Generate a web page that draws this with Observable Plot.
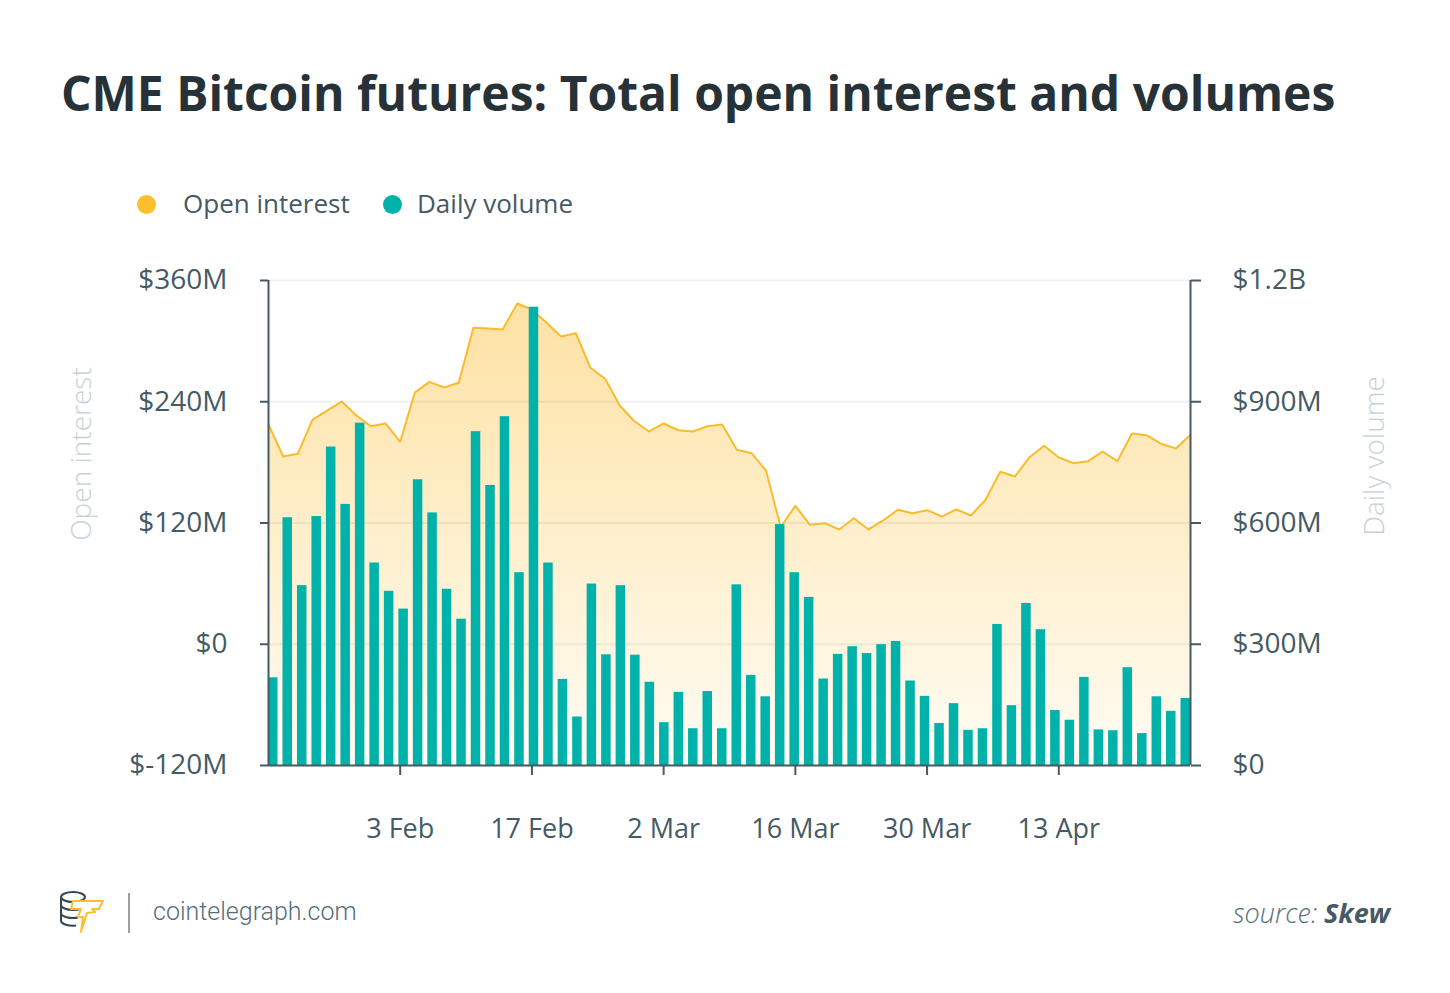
<!DOCTYPE html>
<html>
<head>
<meta charset="utf-8">
<script src="https://cdn.jsdelivr.net/npm/d3@7"></script>
<script src="https://cdn.jsdelivr.net/npm/@observablehq/plot@0.6"></script>
<style>
  html, body { margin: 0; padding: 0; background: #ffffff; }
  #page { position: relative; width: 1450px; height: 993px; overflow: hidden; font-family: "Open Sans", sans-serif; }
  .abs { position: absolute; white-space: nowrap; }
  #title { left: 61px; top: 69px; font-size: 48px; line-height: 48px; font-weight: 700; color: #263238; }
  .leg { top: 190px; font-size: 26px; line-height: 26px; color: #455a64; }
  .dot { position: absolute; width: 19px; height: 19px; border-radius: 50%; top: 195px; }
  .axtitle { font-size: 28px; line-height: 28px; font-weight: 300; color: #c8d1d6; transform: translate(-50%, -50%) rotate(-90deg); }
  #chart { position: absolute; left: 0; top: 250px; }
  #site { left: 153px; top: 899px; font-family: Roboto, sans-serif; font-weight: 300; font-size: 25px; line-height: 25px; color: #546e7a; }
  #source { right: 60px; top: 899px; font-size: 27px; line-height: 27px; font-style: italic; color: #546e7a; }
  #source b { font-weight: 700; color: #455a64; }
</style>
</head>
<body>
<div id="page">
  <div id="title" class="abs">CME Bitcoin futures: Total open interest and volumes</div>

  <div class="dot" style="left:137px; background:#fbbf2d;"></div>
  <div class="abs leg" style="left:183px;">Open interest</div>
  <div class="dot" style="left:383px; background:#00b2a9;"></div>
  <div class="abs leg" style="left:417px;">Daily volume</div>

  <div class="abs axtitle" style="left:80px; top:454px;">Open interest</div>
  <div class="abs axtitle" style="left:1373px; top:456px;">Daily volume</div>

  <div id="chart"></div>

  <svg class="abs" style="left:56px; top:888px;" width="52" height="48" viewBox="0 0 52 48">
    <g fill="none" stroke="#37474f" stroke-width="2">
      <ellipse cx="17" cy="9" rx="12" ry="5"/>
      <path d="M5 9 V33"/>
      <path d="M5 17 A12 5 0 0 0 29 17"/>
      <path d="M5 25 A12 5 0 0 0 22 29.5"/>
      <path d="M5 33 A12 5 0 0 0 20 37.5"/>
    </g>
    <path d="M17 13 H47 L43 21 H36 L39 24 L31 25 L25 44 L27 29 L22 29 L25 21 H15 Z" fill="#ffffff" stroke="#fbbf2d" stroke-width="2" stroke-linejoin="round"/>
  </svg>
  <div class="abs" style="left:128px; top:893px; width:2px; height:40px; background:#9e9e9e;"></div>
  <div id="site" class="abs">cointelegraph.com</div>
  <div id="source" class="abs"><span style="font-weight:300">source: </span><b>Skew</b></div>
</div>

<script>
// ---- Data ----
// Open interest, $M, one value per trading session
const openInterest = [
  217.5, 185.8, 188.5, 222.1, 231.3, 240.2, 226.4, 215.8, 218.5, 200.4,
  249.2, 259.7, 254.1, 258.8, 313.2, 312.5, 311.5, 337.2, 331.3, 318.1,
  304.6, 307.8, 273.6, 262.7, 236.3, 220.7, 210.6, 218.5, 211.8, 210.6,
  215.8, 217.5, 192.4, 189.1, 171.7, 115.8, 137.0, 118.2, 119.8, 113.6,
  124.7, 113.6, 122.5, 133.1, 129.7, 132.7, 126.4, 133.4, 127.4, 143.0,
  170.7, 166.0, 185.1, 196.4, 184.8, 179.2, 181.2, 190.8, 181.2, 208.6,
  206.9, 198.4, 193.7, 207.3
];
// Daily volume, $M
const dailyVolume = [
  217, 613, 445, 616, 788, 646, 847, 501, 431, 387,
  707, 625, 436, 362, 826, 693, 863, 477, 1134, 501,
  213, 120, 449, 274, 445, 273, 206, 106, 181, 91,
  183, 91, 447, 223, 170, 596, 477, 416, 214, 275,
  294, 277, 299, 307, 209, 171, 104, 153, 87, 91,
  349, 148, 401, 336, 136, 112, 218, 88, 86, 242,
  79, 170, 134, 166
];
// Axis
const startDate = new Date(Date.UTC(2020, 0, 20));
const endDate = new Date(Date.UTC(2020, 3, 27));
const dateTicks = [
  new Date(Date.UTC(2020, 1, 3)), new Date(Date.UTC(2020, 1, 17)),
  new Date(Date.UTC(2020, 2, 2)), new Date(Date.UTC(2020, 2, 16)),
  new Date(Date.UTC(2020, 2, 30)), new Date(Date.UTC(2020, 3, 13))
];
const oiTicks = [-120, 0, 120, 240, 360];     // $M, left axis
const volTicks = [0, 300, 600, 900, 1200];    // $M, right axis

// ---- Build ----
const oiMin = oiTicks[0], oiMax = oiTicks[oiTicks.length - 1];
const volMax = volTicks[volTicks.length - 1];
const volToOi = v => oiMin + v * (oiMax - oiMin) / volMax;
const oiToVol = y => (y - oiMin) * volMax / (oiMax - oiMin);

const n = openInterest.length;
const span = endDate - startDate;
const barFrac = 0.0103;
const at = f => new Date(+startDate + f * span);

const oiData = openInterest.map((oi, i) => ({ date: at(i / (n - 1)), oi }));
const volData = dailyVolume.map((v, i) => {
  const f = (i / (n - 1)) * (1 - barFrac);
  return { x1: at(f), x2: at(f + barFrac), v: volToOi(v) };
});

const fmtOi = d => d === 0 ? "$0" : `$${d}M`;
const fmtVol = y => {
  const v = Math.round(oiToVol(y));
  if (v === 0) return "$0";
  if (v >= 1000) return `$${v / 1000}B`;
  return `$${v}M`;
};

const axisColor = "#455a64";

const chart = Plot.plot({
  width: 1450,
  height: 615,
  marginLeft: 268,
  marginRight: 260,
  marginTop: 30,
  marginBottom: 100,
  style: { fontFamily: "Open Sans, sans-serif", fontSize: "27px", color: axisColor, background: "transparent", overflow: "visible" },
  x: { type: "utc", domain: [startDate, endDate] },
  y: { domain: [oiMin, oiMax] },
  marks: [
    () => {
      const defs = d3.create("svg:defs");
      const g = defs.append("linearGradient")
        .attr("id", "oiGrad")
        .attr("gradientUnits", "userSpaceOnUse")
        .attr("x1", 0).attr("x2", 0).attr("y1", 30).attr("y2", 515);
      g.append("stop").attr("offset", "0").attr("stop-color", "#fde09f");
      g.append("stop").attr("offset", "1").attr("stop-color", "#fffcf4");
      return defs.node();
    },
    Plot.areaY(oiData, { x: "date", y1: oiMin, y2: "oi", fill: "url(#oiGrad)" }),
    Plot.ruleY(oiTicks.slice(1), { stroke: "#000", strokeOpacity: 0.06, strokeWidth: 2 }),
    Plot.lineY(oiData, { x: "date", y: "oi", stroke: "#fbbc2c", strokeWidth: 2 }),
    Plot.rect(volData, { x1: "x1", x2: "x2", y1: oiMin, y2: "v", fill: "#00b2a9" }),
    Plot.ruleX([startDate, endDate], { stroke: axisColor, strokeWidth: 2 }),
    Plot.ruleY([oiMin], { stroke: axisColor, strokeWidth: 2 }),
    Plot.axisY(oiTicks, { anchor: "left", tickFormat: fmtOi, tickSize: 8, tickPadding: 33, strokeWidth: 2, fontSize: 28, label: null }),
    Plot.axisY(volTicks.map(volToOi), { anchor: "right", tickFormat: fmtVol, tickSize: 10, tickPadding: 32, strokeWidth: 2, fontSize: 28, label: null }),
    Plot.axisX(dateTicks, { tickFormat: d3.utcFormat("%-d %b"), tickSize: 10, tickPadding: 43, strokeWidth: 2, fontSize: 27, label: null })
  ]
});

document.getElementById("chart").appendChild(chart);
</script>
</body>
</html>
